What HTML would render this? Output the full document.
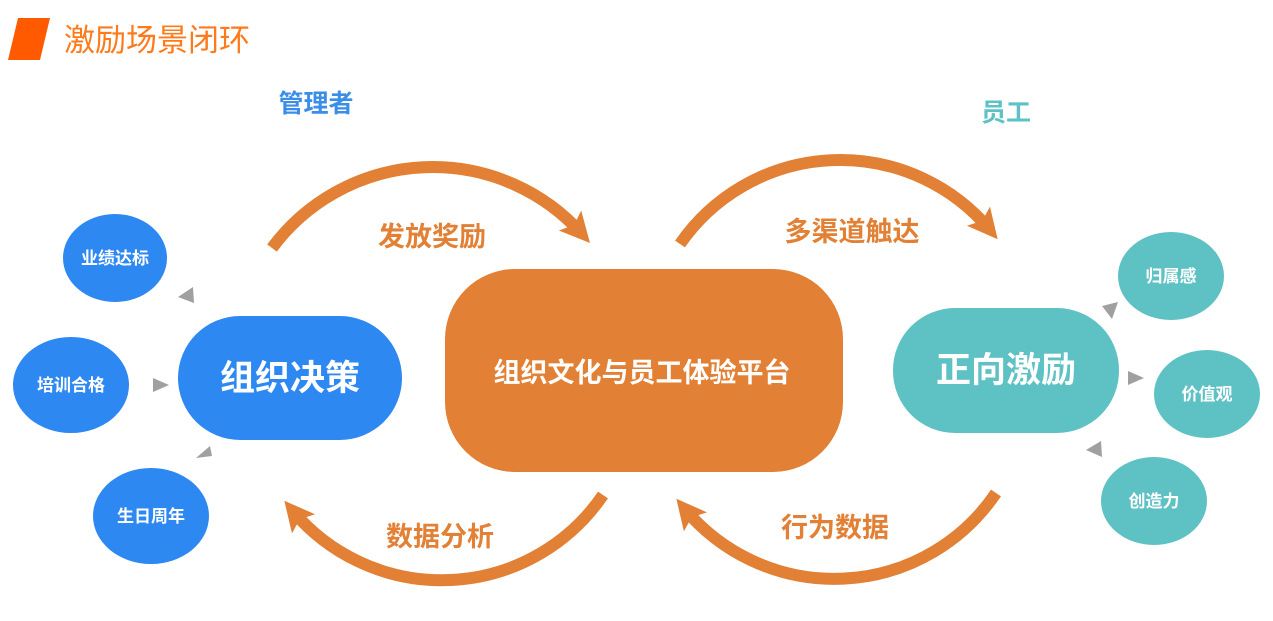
<!DOCTYPE html>
<html><head><meta charset="utf-8"><style>
html,body{margin:0;padding:0;background:#fff;}
svg{display:block;}
text{font-family:"Liberation Sans","Noto Sans CJK SC",sans-serif;}
</style></head><body>
<svg width="1273" height="621" viewBox="0 0 1273 621" xmlns="http://www.w3.org/2000/svg">
<defs>
<marker id="ah" markerUnits="userSpaceOnUse" markerWidth="40" markerHeight="40" refX="18" refY="15" orient="auto">
<polygon points="0,0 30,15 0,30 6,15" fill="#E28035"/>
</marker>
</defs>
<polygon points="18,18 50,18 40,60 8,60" fill="#FF5A00"/>
<text x="64" y="51" font-size="31" fill="#FF7A1A">激励场景闭环</text>
<text x="316" y="112" font-size="25" font-weight="bold" fill="#3A8EE8" text-anchor="middle">管理者</text>
<text x="1006" y="121" font-size="25" font-weight="bold" fill="#5EC2C4" text-anchor="middle">员工</text>

<g fill="none" stroke="#E28035" stroke-width="12">
<path d="M272,248 A200,200 0 0 1 582,234" marker-end="url(#ah)"/>
<path d="M680,244 A195,195 0 0 1 990,230" marker-end="url(#ah)"/>
<path d="M603,495 A195,195 0 0 1 292,510" marker-end="url(#ah)"/>
<path d="M996,493 A195,195 0 0 1 684,508" marker-end="url(#ah)"/>
</g>
<g font-size="27" font-weight="bold" fill="#E28035" text-anchor="middle">
<text x="432" y="246">发放奖励</text>
<text x="852" y="241">多渠道触达</text>
<text x="440" y="546">数据分析</text>
<text x="835" y="537">行为数据</text>
</g>

<ellipse cx="115" cy="258" rx="52" ry="44" fill="#2E88F2"/>
<ellipse cx="71" cy="385" rx="58" ry="48" fill="#2E88F2"/>
<ellipse cx="151" cy="516" rx="58" ry="48" fill="#2E88F2"/>
<rect x="178" y="316" width="224" height="124" rx="62" fill="#2E88F2"/>
<rect x="445" y="269" width="398" height="203" rx="70" fill="#E28035"/>
<rect x="893" y="308" width="226" height="125" rx="62" fill="#5EC2C4"/>
<ellipse cx="1171" cy="276" rx="53" ry="44" fill="#5EC2C4"/>
<ellipse cx="1207" cy="394" rx="53" ry="44" fill="#5EC2C4"/>
<ellipse cx="1154" cy="501" rx="53" ry="44" fill="#5EC2C4"/>

<g fill="#fff" font-weight="bold" text-anchor="middle">
<text x="115" y="264" font-size="17">业绩达标</text>
<text x="71" y="391" font-size="17">培训合格</text>
<text x="151" y="522" font-size="17">生日周年</text>
<text x="290" y="390" font-size="35">组织决策</text>
<text x="642" y="382" font-size="27">组织文化与员工体验平台</text>
<text x="1006" y="382" font-size="35">正向激励</text>
<text x="1171" y="282" font-size="17">归属感</text>
<text x="1207" y="400" font-size="17">价值观</text>
<text x="1154" y="507" font-size="17">创造力</text>
</g>

<g fill="#A0A0A0">
<polygon points="178,297 193,287 194,303"/>
<polygon points="153,378 169,385 153,392"/>
<polygon points="196,458 210,446 212,456"/>
<polygon points="1102,306 1118,302 1112,319"/>
<polygon points="1128,371 1144,378 1128,385"/>
<polygon points="1086,450 1101,441 1102,457"/>
</g>
</svg>
</body></html>
